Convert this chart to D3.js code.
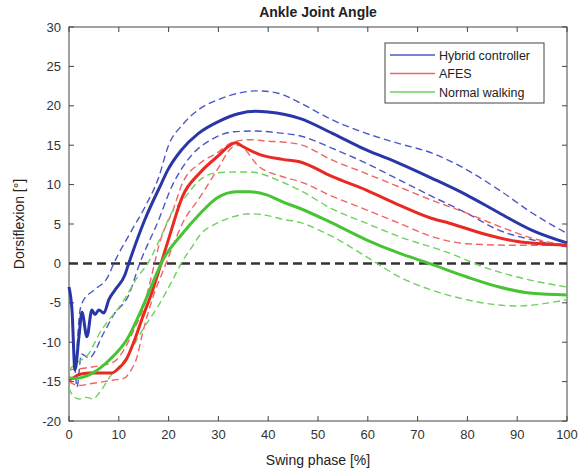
<!DOCTYPE html>
<html>
<head>
<meta charset="utf-8">
<script src="https://cdn.jsdelivr.net/npm/d3@7"></script>
<style>
  body { margin: 0; background: #fff; }
  svg { font-family: "Liberation Sans", Arial, sans-serif; }
</style>
</head>
<body>
<svg id="chart" width="583" height="473"></svg>
<script>
// swing phase [%] vs dorsiflexion [deg]
const hybridMean = [[0,-3],[0.6,-5.9],[1.2,-13.5],[2,-9.3],[2.6,-6.2],[3.6,-9.3],[4.6,-5.9],[5.2,-6.5],[6,-5.9],[7,-6.3],[8,-4.6],[9.2,-3.4],[11.2,-1.5],[12,0],[15.2,5.5],[18.6,10.2],[19.8,11.8],[22.6,14.4],[26,16.5],[30,18],[34,19],[37.5,19.3],[40,19.2],[46.3,18.4],[52.9,16.5],[59.7,14.4],[66.3,12.7],[72.9,10.8],[79.8,8.7],[86.4,6.4],[93,4.2],[100,2.6]];
const hybridUpper = [[1.5,-12],[2.2,-6],[2.8,-4.8],[5,-3.4],[7.8,-1.7],[9,0],[12.6,4.2],[15.2,7.1],[18,10.9],[20,15],[22.8,17.6],[26,19.5],[30,20.8],[34,21.6],[37.7,21.9],[42,21.6],[46.3,20.4],[52.9,18.2],[59.7,16.5],[66.3,15.2],[72.9,14],[79.8,11.9],[86.4,9.3],[93,6.4],[100,3.8]];
const hybridLower = [[1.2,-13],[1.6,-15.7],[2.5,-11.5],[4,-12],[7,-8.8],[9,-6.5],[12,-4],[14.2,0],[18,5.5],[20.6,9.7],[22.6,12],[25,14],[28.3,15.6],[33,16.7],[37,16.8],[43,16.5],[46.3,16.2],[52.9,14.6],[59.7,12.7],[66.3,10.6],[72.9,8.5],[79.8,6.4],[86.4,4.2],[93,3],[100,2.1]];

const afesMean = [[0,-14.8],[1,-14.5],[2,-14.1],[4,-13.9],[8.6,-13.9],[10,-13.3],[11.5,-12.2],[13,-10],[14.8,-6.8],[16.8,-3.4],[18.5,0],[20.2,3.5],[22.8,8.5],[26.3,11.5],[29.7,13.5],[33.5,15.3],[35,14.8],[38.3,13.8],[42.9,13.2],[46.3,12.9],[52.9,11],[59.7,9.3],[66.3,7.4],[72.9,5.7],[76.4,5.1],[83,3.8],[89.8,2.8],[100,2.3]];
const afesUpper = [[0,-13.5],[3,-13.3],[6,-13],[9,-12.5],[11,-11],[13,-8.5],[15,-5.5],[16.8,-1],[18.2,2.6],[20.9,6.8],[22.8,10.2],[26.3,12.7],[29.7,14],[32.9,15.4],[36.3,15.7],[40,15.5],[42.9,15.4],[46.3,15.1],[52.9,13.1],[59.7,11.4],[66.3,9.7],[72.9,8],[79.8,6.4],[86.4,4.7],[93,3.2],[100,2.3]];
const afesLower = [[0,-15],[2,-15.5],[4,-15.3],[7,-15],[9,-14.8],[11,-14.6],[12.5,-13.5],[13.6,-12],[14.8,-8.8],[16.8,-4.4],[18.8,-1.1],[20.8,2.1],[22.8,5.1],[26.3,8.4],[29.7,11.8],[32.9,14.8],[34,15],[38.3,12.2],[42.9,11],[46.3,10.4],[52.9,8.5],[59.7,6.8],[66.3,5.1],[72.9,3.4],[79.8,2.5],[89.8,2.3],[100,2.3]];

const normalMean = [[0,-14.5],[1,-14.6],[3,-14.4],[4.8,-13.9],[8.2,-12.2],[11.6,-9.7],[14.8,-5.5],[17.6,-1.3],[18.5,0],[22.8,3.8],[26.3,6.3],[29.7,8.3],[33.6,9.1],[36.3,9.1],[39.7,8.7],[42.9,7.8],[46.3,7],[52.9,5.1],[59.7,3],[66.3,1.3],[72.3,0],[79.8,-1.7],[86.4,-3],[93,-3.8],[100,-4]];
const normalUpper = [[0,-13.5],[1.8,-12.5],[3.8,-11.6],[6.2,-8.8],[10.8,-4.9],[13.8,-1.7],[15.8,0],[18.4,3.3],[20.6,6.4],[22.8,8],[26.3,10.6],[29.7,11.5],[33.6,11.6],[36.3,11.6],[42.9,10.3],[46.3,9.3],[52.9,6.9],[59.7,5.1],[66.3,3.4],[76.4,1.3],[83,-0.4],[89.8,-1.7],[100,-3]];
const normalLower = [[0,-15.8],[0.8,-16.8],[2,-17.2],[3.5,-17],[4.8,-17.2],[6,-16.5],[8.2,-14.4],[11.6,-11.9],[14.8,-8.4],[18.2,-5.1],[20.8,-2.1],[22.8,0.3],[24.6,2],[26.3,3.6],[29.7,5.1],[32.9,5.9],[36.3,6.3],[39.7,6.1],[42.9,5.6],[46.3,5.2],[52.9,3.4],[59.7,0.85],[66.3,-1.7],[72.9,-3.4],[79.8,-4.6],[89.8,-5.4],[100,-4.6]];

const seriesNames = ["Hybrid controller", "AFES", "Normal walking"];
const xTicks = [0,10,20,30,40,50,60,70,80,90,100];
const yTicks = [-20,-15,-10,-5,0,5,10,15,20,25,30];

const svg = d3.select("#chart");
const margin = {left: 69, right: 16, top: 27, bottom: 52};
const W = 583, H = 473;

const x = d3.scaleLinear().domain([0, 100]).range([margin.left, W - margin.right]);
const y = d3.scaleLinear().domain([-20, 30]).range([H - margin.bottom, margin.top]);

const frameColor = "#444";

// frame
svg.append("rect")
  .attr("x", x(0)).attr("y", y(30))
  .attr("width", x(100) - x(0)).attr("height", y(-20) - y(30))
  .attr("fill", "none").attr("stroke", frameColor).attr("stroke-width", 1);

// ticks, inward on all sides
const tickLen = 5;
const ticks = svg.append("g").attr("stroke", frameColor).attr("stroke-width", 1);
xTicks.forEach(t => {
  ticks.append("line").attr("x1", x(t)).attr("x2", x(t)).attr("y1", y(-20)).attr("y2", y(-20) - tickLen);
  ticks.append("line").attr("x1", x(t)).attr("x2", x(t)).attr("y1", y(30)).attr("y2", y(30) + tickLen);
});
yTicks.forEach(t => {
  ticks.append("line").attr("x1", x(0)).attr("x2", x(0) + tickLen).attr("y1", y(t)).attr("y2", y(t));
  ticks.append("line").attr("x1", x(100)).attr("x2", x(100) - tickLen).attr("y1", y(t)).attr("y2", y(t));
});

svg.append("g").selectAll("text").data(xTicks).join("text")
  .attr("x", d => x(d)).attr("y", y(-20) + 18)
  .attr("text-anchor", "middle").attr("font-size", 13).attr("fill", "#333")
  .text(d => d);

svg.append("g").selectAll("text").data(yTicks).join("text")
  .attr("x", x(0) - 8).attr("y", d => y(d) + 4.5)
  .attr("text-anchor", "end").attr("font-size", 13).attr("fill", "#333")
  .text(d => d);

// zero reference line
svg.append("line")
  .attr("x1", x(0)).attr("x2", x(100)).attr("y1", y(0)).attr("y2", y(0))
  .attr("stroke", "#333").attr("stroke-width", 2.5).attr("stroke-dasharray", "9,5");

const line = d3.line().x(d => x(d[0])).y(d => y(d[1])).curve(d3.curveMonotoneX);

const styles = [
  {mean: hybridMean, upper: hybridUpper, lower: hybridLower, solid: "#2936a8", dash: "#4a58c6"},
  {mean: afesMean, upper: afesUpper, lower: afesLower, solid: "#ea2a22", dash: "#f26464"},
  {mean: normalMean, upper: normalUpper, lower: normalLower, solid: "#47c433", dash: "#6fd25e"}
];

const plot = svg.append("g");
styles.forEach(s => {
  [s.upper, s.lower].forEach(d => {
    plot.append("path").attr("d", line(d))
      .attr("fill", "none").attr("stroke", s.dash).attr("stroke-width", 1.4)
      .attr("stroke-dasharray", "7,4");
  });
});
styles.forEach(s => {
  plot.append("path").attr("d", line(s.mean))
    .attr("fill", "none").attr("stroke", s.solid).attr("stroke-width", 3)
    .attr("stroke-linejoin", "round");
});

// legend
const lg = svg.append("g").attr("transform", "translate(385,43)");
lg.append("rect").attr("width", 159).attr("height", 60)
  .attr("fill", "#fff").attr("stroke", frameColor).attr("stroke-width", 1);
seriesNames.forEach((name, i) => {
  const yy = 12 + i * 18.5;
  lg.append("line").attr("x1", 5).attr("x2", 50).attr("y1", yy).attr("y2", yy)
    .attr("stroke", styles[i].dash).attr("stroke-width", 1.6);
  lg.append("text").attr("x", 54).attr("y", yy + 4.5)
    .attr("font-size", 12.5).attr("fill", "#222").text(name);
});

// titles
svg.append("text").attr("x", (x(0) + x(100)) / 2).attr("y", 17)
  .attr("text-anchor", "middle").attr("font-size", 14).attr("font-weight", "bold")
  .attr("fill", "#222").text("Ankle Joint Angle");

svg.append("text").attr("x", (x(0) + x(100)) / 2).attr("y", 465)
  .attr("text-anchor", "middle").attr("font-size", 14).attr("fill", "#222")
  .text("Swing phase [%]");

svg.append("text")
  .attr("transform", `translate(24,${(y(-20) + y(30)) / 2}) rotate(-90)`)
  .attr("text-anchor", "middle").attr("font-size", 14).attr("fill", "#222")
  .text("Dorsiflexion [°]");
</script>
</body>
</html>
